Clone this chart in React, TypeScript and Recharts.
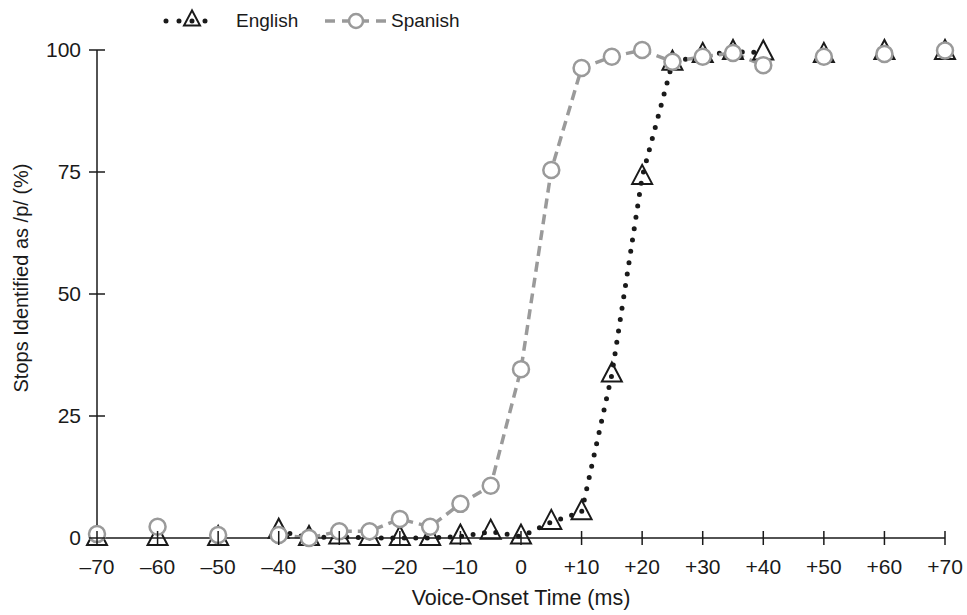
import { LineChart, Line, XAxis, YAxis } from "recharts";

// voice-onset time steps (ms); odd 5 ms steps outside -40..40 were not tested
const VOT = [
    -70, -65, -60, -55, -50, -45, -40, -35, -30, -25, -20, -15, -10, -5, 0,
    5, 10, 15, 20, 25, 30, 35, 40, 45, 50, 55, 60, 65, 70,
];

// % of stops identified as /p/
const ENGLISH = [
    0, null, 0, null, 0, null, 1.5, 0, 0.3, 0, 0, 0, 0.3, 1.3, 0.3,
    3.3, 5.3, 33.5, 74, 97.4, 99, 99.6, 99.5, null, 99, null, 99.6, null, 99.6,
];
const SPANISH = [
    0.8, null, 2.3, null, 0.6, null, 0.6, 0, 1.4, 1.4, 3.9, 2.3, 7, 10.7, 34.6,
    75.4, 96.3, 98.6, 100, 97.6, 98.6, 99.4, 96.9, null, 98.6, null, 99.2, null, 99.9,
];

const X_TICKS = [-70, -60, -50, -40, -30, -20, -10, 0, 10, 20, 30, 40, 50, 60, 70];
const X_TICK_LABELS = [
    "–70", "–60", "–50", "–40", "–30", "–20", "–10", "0",
    "+10", "+20", "+30", "+40", "+50", "+60", "+70",
];
const Y_TICKS = [0, 25, 50, 75, 100];

const FONT = '"Liberation Sans", Arial, Helvetica, sans-serif';
const INK = "#1a1a1a";
const GRAY = "#9a9a9a";

const chartData = VOT.map((v, i) => ({
    vot: v,
    english: ENGLISH[i],
    spanish: SPANISH[i],
}));

function Triangle({ cx, cy, scale = 1 }: { cx: number; cy: number; scale?: number }) {
    const w = 10 * scale;
    const up = 12 * scale;
    const down = 7 * scale;
    return (
        <polygon
            points={`${cx},${cy - up} ${cx - w},${cy + down} ${cx + w},${cy + down}`}
            fill="none"
            stroke={INK}
            strokeWidth={2}
            strokeLinejoin="miter"
        />
    );
}

function EnglishDot(props: any) {
    const { cx, cy, index } = props;
    if (cx == null || cy == null || props.value == null) return <g key={`e-${index}`} />;
    return (
        <g key={`e-${index}`}>
            <Triangle cx={cx} cy={cy} />
        </g>
    );
}

function SpanishDot(props: any) {
    const { cx, cy, index } = props;
    if (cx == null || cy == null || props.value == null) return <g key={`s-${index}`} />;
    return (
        <circle
            key={`s-${index}`}
            cx={cx}
            cy={cy}
            r={8}
            fill="#fff"
            stroke={GRAY}
            strokeWidth={2.5}
        />
    );
}

function XTick(props: any) {
    const { x, y, payload } = props;
    const i = X_TICKS.indexOf(payload.value);
    return (
        <g>
            <line x1={x} x2={x} y1={y - 7} y2={y + 7} stroke={INK} strokeWidth={1.5} />
            <text
                x={x}
                y={y + 29}
                dy="0.35em"
                textAnchor="middle"
                fontFamily={FONT}
                fontSize={21}
                fill={INK}
            >
                {X_TICK_LABELS[i]}
            </text>
        </g>
    );
}

function YTick(props: any) {
    const { x, y, payload } = props;
    return (
        <g>
            <line x1={x - 8} x2={x + 8} y1={y} y2={y} stroke={INK} strokeWidth={1.5} />
            <text
                x={x - 16}
                y={y}
                dy="0.35em"
                textAnchor="end"
                fontFamily={FONT}
                fontSize={21}
                fill={INK}
            >
                {payload.value}
            </text>
        </g>
    );
}

function Overlay() {
    return (
        <svg
            width={967}
            height={615}
            style={{ position: "absolute", left: 0, top: 0, pointerEvents: "none" }}
        >
            {/* legend */}
            <line
                x1={166}
                x2={207}
                y1={21}
                y2={21}
                stroke={INK}
                strokeWidth={5}
                strokeDasharray="0 13"
                strokeLinecap="round"
            />
            <Triangle cx={192} cy={20} scale={0.8} />
            <text x={236} y={27} fontFamily={FONT} fontSize={19} fill={INK}>
                English
            </text>
            <line
                x1={325}
                x2={386}
                y1={21}
                y2={21}
                stroke={GRAY}
                strokeWidth={3.5}
                strokeDasharray="10 7"
            />
            <circle cx={356} cy={21} r={7} fill="#fff" stroke={GRAY} strokeWidth={2.5} />
            <text x={391} y={27} fontFamily={FONT} fontSize={19} fill={INK}>
                Spanish
            </text>

            {/* axis titles */}
            <text
                x={521}
                y={605}
                textAnchor="middle"
                fontFamily={FONT}
                fontSize={21.5}
                fill={INK}
            >
                Voice-Onset Time (ms)
            </text>
            <text
                x={28}
                y={278}
                textAnchor="middle"
                transform="rotate(-90 28 278)"
                fontFamily={FONT}
                fontSize={20}
                fill={INK}
            >
                Stops Identified as /p/ (%)
            </text>
        </svg>
    );
}

export default function App() {
    return (
        <div
            style={{
                position: "absolute",
                left: 0,
                top: 0,
                width: 967,
                height: 615,
                background: "#fff",
            }}
        >
            <LineChart
                width={967}
                height={615}
                data={chartData}
                margin={{ top: 50, right: 22, left: 37, bottom: 27 }}
            >
                <XAxis
                    dataKey="vot"
                    type="number"
                    domain={[-70, 70]}
                    ticks={X_TICKS}
                    interval={0}
                    height={50}
                    tickSize={0}
                    tickMargin={0}
                    tickLine={false}
                    axisLine={{ stroke: INK, strokeWidth: 1.5 }}
                    tick={<XTick />}
                />
                <YAxis
                    type="number"
                    domain={[0, 100]}
                    ticks={Y_TICKS}
                    interval={0}
                    width={60}
                    tickSize={0}
                    tickMargin={0}
                    tickLine={false}
                    axisLine={{ stroke: INK, strokeWidth: 1.5 }}
                    tick={<YTick />}
                />
                <Line
                    dataKey="english"
                    type="linear"
                    stroke={INK}
                    strokeWidth={5}
                    strokeDasharray="0 11.5"
                    strokeLinecap="round"
                    dot={EnglishDot}
                    activeDot={false}
                    isAnimationActive={false}
                />
                <Line
                    dataKey="spanish"
                    type="linear"
                    stroke={GRAY}
                    strokeWidth={3.5}
                    strokeDasharray="10 6"
                    dot={SpanishDot}
                    activeDot={false}
                    isAnimationActive={false}
                />
            </LineChart>
            <Overlay />
        </div>
    );
}
